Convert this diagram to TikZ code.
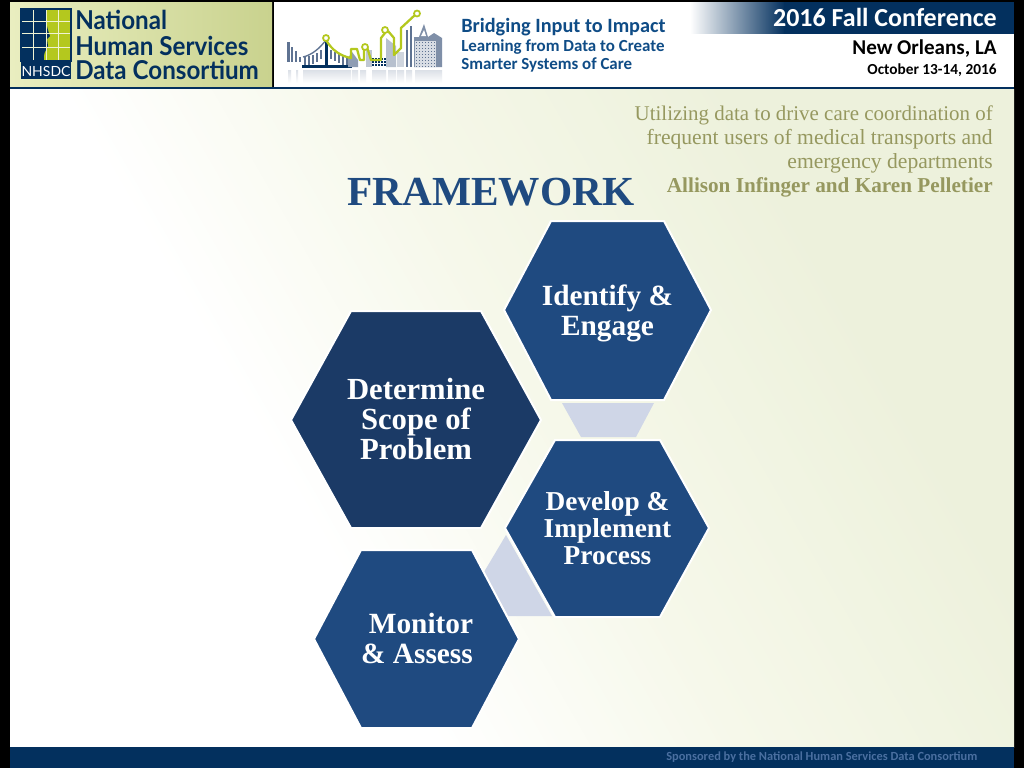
\documentclass[tikz,border=0pt]{standalone}
\usepackage{fontspec}
\setmainfont{Liberation Serif}
\newfontfamily\hdr{Carlito}
\newfontfamily\logof{Lato}
\newcommand{\fs}[1]{\fontsize{#1}{#1}\selectfont}
\newcommand{\fsl}[2]{\fontsize{#1}{#2}\selectfont}
\newcommand{\lgt}[1]{\scalebox{0.93}[1]{#1}}
\usetikzlibrary{calc}
\definecolor{navy}{HTML}{03305E}
\definecolor{hexb}{HTML}{1F4A80}
\definecolor{hexd}{HTML}{1B3A66}
\definecolor{trap}{HTML}{CFD6E7}
\definecolor{bgG}{HTML}{EDF1DC}
\definecolor{bgM}{HTML}{F6F8EA}
\definecolor{lime}{HTML}{B4C81E}
\definecolor{olive}{HTML}{96985F}
\definecolor{hblue}{HTML}{0F4C86}
\definecolor{logoL}{HTML}{E9EEC0}
\definecolor{logoR}{HTML}{C9D28E}
\definecolor{sky}{HTML}{5F7392}
\definecolor{sponsor}{HTML}{4A6FA0}
\pgfdeclarehorizontalshading{bgsh}{100bp}{color(0bp)=(white);color(37bp)=(white);color(52bp)=(bgM);color(70bp)=(bgG);color(100bp)=(bgG)}
\tikzset{
  hexa/.style={draw=white,line width=1.5pt,line join=miter,fill=hexb},
  hexlabel/.style={text=white,align=center,inner sep=0pt},
  trapz/.style={fill=trap,draw=none},
  skybar/.style={fill=sky,draw=none},
  mirror bar/.style={top color=sky!22,bottom color=white,draw=none},
  green line/.style={draw=lime,line width=1.7pt,line join=round},
  ring/.style={draw=lime,line width=1.3pt,fill=white},
  htext/.style={anchor=base east,inner sep=0pt,font=\hdr\bfseries},
  hl/.style={anchor=base west,inner sep=0pt,text=hblue,font=\hdr},
  logot/.style={anchor=base west,inner sep=0pt,text=navy,font=\logof\bfseries},
  subt/.style={anchor=base east,inner sep=0pt,text=olive}
}
\begin{document}
\begin{tikzpicture}[x=0.75pt,y=-0.75pt]
\useasboundingbox (0,0) rectangle (1024,768);
\fill[black] (0,0) rectangle (1024,768);
% background
\shade[shading=bgsh,shading angle=30] (10,89) rectangle (1014,747);
% header
\shade[left color=logoL,right color=logoR] (10,2) rectangle (272,87);
\fill[white] (274,2) rectangle (1014,87);
\fill[navy] (10,87) rectangle (1014,89);
\shade[left color=white,right color=navy] (690,2) rectangle (785,33.5);
\fill[navy] (784,2) rectangle (1014,33.5);
% logo mark
\fill[lime] (21,9) rectangle (71,61);
\fill[navy] (21,9) -- (46,9) .. controls (45,20) and (47,28) .. (50,36) -- (47,39) -- (48,46) .. controls (46,51) and (43,52) .. (44,61) -- (21,61) -- cycle;
\foreach \gx in {33,46,58} \draw[logoL!70!white,line width=0.7pt] (\gx,9) -- (\gx,61);
\foreach \gy in {21,33,47} \draw[logoL!70!white,line width=0.7pt] (21,\gy) -- (71,\gy);
\draw[navy,line width=1.2pt] (21,9) rectangle (71,61);
\fill[navy] (21,61) rectangle (71,79);
\node[anchor=center,inner sep=0pt,text=white,font=\logof] (nh) at (46,71) {\fs{10.5}NHSDC};
\node[logot] (l1) at (75,29) {\fs{19.5}\lgt{National}};
\node[logot] (l2) at (75,55) {\fs{19.5}\lgt{Human Services}};
\node[logot] (l3) at (75,79) {\fs{19.5}\lgt{Data Consortium}};
% skyline
\foreach \bx/\bw in {288/3,296/2,303/48,352/6,360/6,372/14,388/8,397/7,406/6,415/27} \shade[mirror bar] (\bx,70) rectangle ++(\bw,13);
\fill[skybar] (287,42) rectangle (289.5,62);
\fill[skybar] (291,47) rectangle (293,62);
\fill[skybar] (295,51) rectangle (297,62);
\fill[skybar] (299,57) rectangle (301,62);
\foreach \bx/\by in {304/57,308/56,312/55,316/53,320/50,330/50,334/52,338/54,342/56,346/58} \fill[skybar] (\bx,\by) rectangle ++(2,9);
\fill[navy] (302,65) rectangle (352,67.5);
\fill[navy] (324.5,38) rectangle (327.5,67);
\draw[sky,line width=1pt] (303,57) .. controls (312,55) and (320,48) .. (326,40);
\fill[sky!70] (348,58) -- (352,52) -- (358,60) -- (358,67) -- (348,67) -- cycle;
\fill[sky!40] (366,50) rectangle (372,67);
\foreach \wy in {58,61,64} \foreach \wx in {372,375,378,381,384} \fill[navy] (\wx,\wy) rectangle ++(2,2);
\fill[sky!45] (386,38) -- (396,46) -- (396,67) -- (386,67) -- cycle;
\fill[sky!30] (397,52) rectangle (404,67);
\fill[skybar] (406,30) rectangle (408,67);
\fill[skybar] (410,26) rectangle (412,67);
\fill[sky!80] (414,67) -- (414,37) -- (419,37) -- (424,24) -- (428,37) -- (434,33) -- (442,38) -- (442,67) -- cycle;
\fill[white] (421,36) -- (424,30) -- (426,36) -- cycle;
\fill[sky!25] (415,41) rectangle (436,67);
\foreach \wy in {42,45,...,66} \foreach \wx in {416,419,...,434} \fill[sky] (\wx,\wy) rectangle ++(1.3,1.3);
\draw[green line] (326,40) .. controls (332,50) and (340,56) .. (351,58) -- (351,49) -- (357,49) -- (360,60) -- (364,60) -- (364,48) (367,47) -- (371,60) -- (381,60) -- (381,38) -- (385,33) (388,31) -- (394,38) -- (394,55) -- (401,48) -- (401,28) -- (415,15);
\draw[ring] (326,38) circle (3);
\draw[ring] (365,47) circle (3);
\draw[ring] (385,30) circle (3);
\draw[ring] (417,13.5) circle (3);
% header text
\node[hl] (h1) at (461,32) {\fs{15.2}\bfseries Bridging Input to Impact};
\node[hl] (h2) at (461,51) {\fs{12.7}\bfseries Learning from Data to Create};
\node[hl] (h3) at (461,69) {\fs{12.7}\bfseries Smarter Systems of Care};
\node[htext,text=white] (c1) at (997,26) {\fs{19.5}2016 Fall Conference};
\node[htext,text=black] (c2) at (997,54) {\fs{15.8}New Orleans, LA};
\node[htext,text=black] (c3) at (997,74) {\fs{11.5}October 13-14, 2016};
% subtitle
\node[subt] (s1) at (993,120) {\fs{15.7}Utilizing data to drive care coordination of};
\node[subt] (s2) at (993,144) {\fs{16.2}frequent users of medical transports and};
\node[subt] (s3) at (993,168) {\fs{16.2}emergency departments};
\node[subt,font=\bfseries] (s4) at (993,192) {\fs{15.9}Allison Infinger and Karen Pelletier};
\node[anchor=base west,inner sep=0pt,text=hexb,font=\bfseries] (title) at (347,205) {\fs{31}FRAMEWORK};
% connectors shapes
\fill[trapz] (562,403) -- (654,403) -- (636,437) -- (581,437) -- cycle;
\fill[trapz] (506,535) -- (484,572) -- (508,616) -- (552,616) -- cycle;
% hexagons
\draw[hexa] (504,310) -- (551,221) -- (664,221) -- (711,310) -- (664,400) -- (551,400) -- cycle;
\draw[hexa,fill=hexd] (291,420) -- (351,311) -- (481,311) -- (541,420) -- (481,528) -- (351,528) -- cycle;
\draw[hexa] (505,528) -- (555,440) -- (660,440) -- (709,528) -- (660,617) -- (555,617) -- cycle;
\draw[hexa] (314,639) -- (361,550) -- (472,550) -- (519,639) -- (472,728) -- (361,728) -- cycle;
\node[hexlabel,font=\bfseries\fsl{22}{22.5}] (a) at (607.5,313) {Identify \&\\Engage};
\node[hexlabel,font=\bfseries\fsl{23}{22.5}] (b) at (416,419) {Determine\\Scope of\\Problem};
\node[hexlabel,font=\bfseries\fsl{20.5}{20.3}] (c) at (607.5,528) {Develop \&\\Implement\\Process};
\node[hexlabel,font=\bfseries\fsl{22}{22.5}] (d) at (417,638) {\hspace*{6pt}Monitor\\\& Assess};
% footer
\fill[navy] (10,747) rectangle (1014,768);
\node[anchor=base west,inner sep=0pt,text=sponsor,font=\hdr\bfseries] (f) at (666,760) {\fs{9.3}Sponsored by the National Human Services Data Consortium};
\end{tikzpicture}
\end{document}
